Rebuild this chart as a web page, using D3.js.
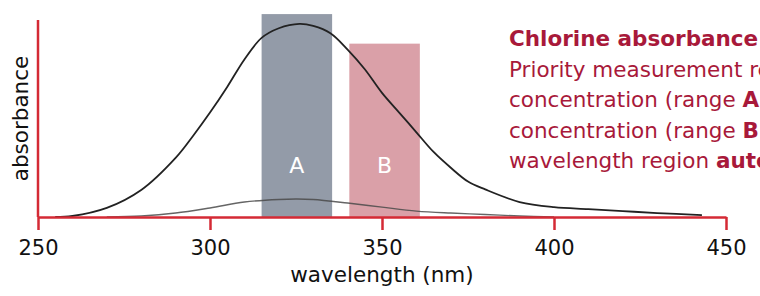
<!DOCTYPE html>
<html>
<head>
<meta charset="utf-8">
<script src="https://cdn.jsdelivr.net/npm/d3@7"></script>
<style>
  html, body { margin: 0; padding: 0; background: #fff; }
  svg { display: block; font-family: "DejaVu Sans", sans-serif; }
</style>
</head>
<body>
<div id="chart"></div>
<script>
// wavelength (nm) / absorbance
const highWavelengths = [255, 260, 270, 280, 290, 295, 300, 305, 310, 315, 320, 326, 330, 335, 340, 345, 350, 355, 360, 365, 370, 375, 380, 390, 400, 410, 420, 430, 443];
const highAbsorbance  = [0, 0.005, 0.046, 0.137, 0.30, 0.41, 0.53, 0.66, 0.80, 0.909, 0.958, 0.98, 0.97, 0.933, 0.85, 0.75, 0.63, 0.53, 0.43, 0.33, 0.25, 0.18, 0.14, 0.076, 0.05, 0.04, 0.03, 0.02, 0.01];

const lowWavelengths = [270, 280, 290, 300, 310, 320, 325, 330, 340, 350, 360, 370, 380, 390, 400];
const lowAbsorbance  = [0, 0.005, 0.02, 0.046, 0.076, 0.089, 0.091, 0.089, 0.071, 0.05, 0.03, 0.02, 0.013, 0.005, 0];

const rangeLabels = ["A", "B"];
const rangeStart  = [315, 340.5];
const rangeEnd    = [335.5, 361];
const rangeTop    = [1.03, 0.88];

const xTicks = [250, 300, 350, 400, 450];

const noteLines = [
  [["Chlorine absorbance spectrum", true]],
  [["Priority measurement region", false]],
  [["concentration (range ", false], ["A", true], [") high", false]],
  [["concentration (range ", false], ["B", true], [") low", false]],
  [["wavelength region ", false], ["automatically", true]]
];

const width = 760, height = 296;
const red = "#d42a35";
const textRed = "#a8193a";

const x = d3.scaleLinear().domain([250, 450]).range([38, 726]);
const y = d3.scaleLinear().domain([0, 1]).range([217, 20]);

const svg = d3.select("#chart").append("svg")
  .attr("width", width)
  .attr("height", height)
  .attr("viewBox", [0, 0, width, height]);

// ranges
const rangeColors = ["#939ba8", "#daa0a8"];
svg.append("g").selectAll("rect")
  .data(rangeLabels)
  .join("rect")
  .attr("x", (d, i) => x(rangeStart[i]))
  .attr("width", (d, i) => x(rangeEnd[i]) - x(rangeStart[i]))
  .attr("y", (d, i) => y(rangeTop[i]))
  .attr("height", (d, i) => y(0) - y(rangeTop[i]))
  .attr("fill", (d, i) => rangeColors[i]);

svg.append("g").selectAll("text")
  .data(rangeLabels)
  .join("text")
  .attr("x", (d, i) => x((rangeStart[i] + rangeEnd[i]) / 2))
  .attr("y", 173)
  .attr("text-anchor", "middle")
  .attr("fill", "#fff")
  .style("font-size", "22px")
  .text(d => d);

// curves
const line = d3.line()
  .x(d => x(d[0]))
  .y(d => y(d[1]))
  .curve(d3.curveCatmullRom.alpha(0.5));

svg.append("path")
  .datum(d3.zip(lowWavelengths, lowAbsorbance))
  .attr("fill", "none")
  .attr("stroke", "#4a4a4a")
  .attr("stroke-width", 1.4)
  .attr("stroke-opacity", 0.85)
  .attr("d", line);

svg.append("path")
  .datum(d3.zip(highWavelengths, highAbsorbance))
  .attr("fill", "none")
  .attr("stroke", "#222")
  .attr("stroke-width", 1.8)
  .attr("d", line);

// axes
const xAxis = svg.append("g")
  .attr("transform", `translate(0,${y(0)})`)
  .call(d3.axisBottom(x).tickValues(xTicks).tickSize(13).tickSizeOuter(0).tickPadding(10));

xAxis.select(".domain").attr("stroke", red).attr("stroke-width", 2.5);
xAxis.selectAll(".tick line").attr("stroke", red).attr("stroke-width", 2.5);
xAxis.selectAll(".tick text")
  .attr("fill", "#111")
  .style("font-family", "DejaVu Sans, sans-serif")
  .style("font-size", "21px");

svg.append("line")
  .attr("x1", x(250)).attr("x2", x(250))
  .attr("y1", y(1)).attr("y2", y(0))
  .attr("stroke", red)
  .attr("stroke-width", 2.5);

svg.append("text")
  .attr("x", x(350))
  .attr("y", 282)
  .attr("text-anchor", "middle")
  .attr("fill", "#111")
  .style("font-size", "21.5px")
  .text("wavelength (nm)");

svg.append("text")
  .attr("transform", `translate(28,${y(0.5)}) rotate(-90)`)
  .attr("text-anchor", "middle")
  .attr("fill", "#111")
  .style("font-size", "21.5px")
  .text("absorbance");

// note
const note = svg.append("text")
  .attr("fill", textRed)
  .style("font-size", "21.5px");

noteLines.forEach((parts, i) => {
  const t = note.append("tspan")
    .attr("x", 509)
    .attr("y", 46 + i * 30.6);
  parts.forEach(([s, bold]) => {
    t.append("tspan")
      .style("font-weight", bold ? "700" : "400")
      .text(s);
  });
});
</script>
</body>
</html>
